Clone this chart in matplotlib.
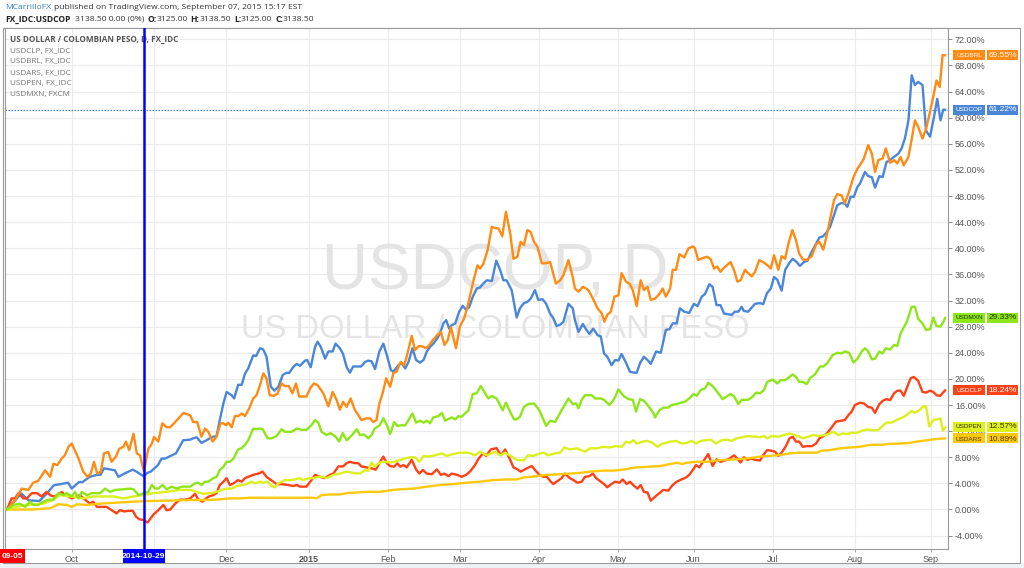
import matplotlib
matplotlib.use("Agg")
import matplotlib.pyplot as plt
import matplotlib.patches as mpatches
import numpy as np
import pandas as pd

# ---------------- DATA ----------------
# x = trading-day index counted from 2014-09-05, y = % change since 2014-09-05
START_DATE = "2014-09-05"
END_DATE = "2015-09-07"
MARK_DATE = "2014-10-29"

USDCOP = [(0, 0), (4, 2.45), (6, 1.4), (9, 1.3), (11, 2.4), (13, 3.7), (17, 4.1), (18, 3.2), (20, 4.2), (21, 4.2),
          (23, 5.0), (25, 5.3), (26, 5.3), (27, 6.3), (30, 6.0), (31, 5.0), (33, 5.6), (35, 6.1), (36, 5.8), (38, 5.1),
          (39, 5.6), (40, 5.8), (42, 6.8), (43, 7.8), (44, 7.8), (47, 8.6), (49, 10.6), (51, 10.7),
          (51.8, 10.9), (52.8, 11.05), (54.1, 10.2), (55.5, 10.6), (56.9, 11.05), (58.3, 11.25), (59.2, 13.7),
          (60.2, 16.25), (61.1, 18.0), (62.5, 17.5), (63.2, 17.0), (64.3, 19.1), (65.3, 19.1), (66.2, 20.8),
          (67.1, 21.6), (68.5, 23.6), (69.3, 23.5), (70.4, 24.7), (71.3, 24.5), (72.2, 23.4), (73.4, 18.8),
          (74.4, 18.2), (75.5, 18.8), (76.7, 20.6), (77.8, 20.95), (78.5, 20.9), (79.6, 21.8), (80.6, 22.3),
          (81.5, 22.0), (82.9, 22.8), (83.5, 22.9), (84.5, 21.8), (85.7, 24.9), (86.4, 25.7), (87.3, 24.9),
          (88.5, 23.1), (89.4, 24.2), (90.6, 24.2), (91.4, 25.4), (92.6, 24.7), (93.5, 23.8), (94.5, 21.8),
          (95.4, 20.95), (96.3, 21.9), (97.3, 21.9), (98.5, 21.9), (99.6, 22.6), (100.5, 22.8), (101.4, 22.7),
          (102.4, 21.5), (103.6, 24.2),
          (104.7, 25.4), (105.7, 23.6), (106.8, 21.35), (107.5, 21.1), (108.9, 22.1), (109.8, 22.4), (110.8, 21.6),
          (111.7, 22.6), (112.8, 24.7), (113.8, 22.9), (114.9, 22.5), (115.9, 22.9), (116.8, 24.2), (117.7, 24.9),
          (118.6, 25.4), (119.7, 26.2), (120.5, 27.0), (121.4, 28.5), (122.2, 29.0), (123, 27.7), (123.7, 28.2),
          (124.7, 28.5), (125.8, 30.3), (126.8, 31.2), (127.7, 30.6), (128.6, 31.0), (129.6, 32.6), (130.7, 33.85),
          (131.6, 34.0), (132.5, 34.6), (133.5, 35.1), (134.9, 35.0), (136.1, 38.1), (137.2, 36.7), (138.1, 35.1),
          (139, 35.1), (140.4, 33.6), (141.8, 29.4), (142.7, 30.8), (143.8, 31.6), (144.8, 31.8), (145.7, 32.3),
          (146.9, 33.6), (147.8, 32.1), (149, 32.2), (150, 31.5), (151.1, 30.0), (152, 29.3), (152.9, 28.1),
          (153.9, 28.3), (154.8, 28.75), (156.2, 31.5),
          (157.4, 30.8), (158, 29.0), (159, 27.2), (160.2, 28.4), (161.1, 27.6), (162, 26.9), (163.1, 27.7),
          (164.3, 26.7), (165.2, 26.5), (166.1, 23.9), (167, 23.4), (168.2, 22.1), (169.2, 22.9), (170.1, 22.8),
          (171, 23.8), (172.2, 22.5), (173.3, 21.1), (174.4, 20.95), (175.2, 20.95), (176.1, 22.4), (177.2, 23.4),
          (178.2, 22.9), (179.1, 22.3), (180.6, 24.2), (181.9, 24.0), (183.3, 27.5), (184.3, 27.6), (185.2, 28.5),
          (186.3, 28.5), (187.2, 30.8), (188.4, 30.3), (189.8, 30.1), (191.1, 31.5), (192.1, 31.15), (193.3, 32.6),
          (194.2, 33.0), (195.4, 34.5), (196.3, 34.1), (197.4, 31.3), (198.5, 31.3), (199.5, 30.0), (200.7, 29.9),
          (201.6, 29.8), (202.5, 30.3), (203.5, 30.3), (204.4, 31.05), (205, 30.4), (206.2, 30.3), (208.1, 31.5),
          (209.5, 31.6),
          (210.4, 31.45), (211.4, 33.1), (212.5, 33.85), (213.4, 35.6), (214.3, 35.2), (215.5, 33.5), (216.5, 36.7),
          (217.7, 37.8), (218.6, 38.4), (219.7, 37.9), (220.6, 37.3), (221.7, 37.9), (222.7, 38.1), (223.9, 39.5),
          (225.1, 40.7), (226, 41.65), (227.1, 41.85), (228.1, 42.5), (229, 43.3), (230.1, 45.1), (231, 46.6),
          (232.2, 46.95), (233.1, 46.85), (233.8, 46.35), (234.7, 47.9), (235.6, 47.9), (236.6, 49.4), (237.3, 49.9),
          (238.7, 51.7), (239.6, 51.05), (240.6, 50.9), (241.5, 49.3), (242.7, 51.05), (243.6, 50.9), (244.7, 53.2),
          (245.8, 53.6), (246.8, 54.0), (248, 54.5), (248.9, 55.3), (249.8, 56.8), (250.8, 59.6), (251.7, 66.5),
          (252.6, 65.0), (253.5, 65.5), (254.7, 65.0), (255.7, 58.0), (256.8, 57.1), (257.9, 60.1), (258.8, 62.9),
          (259.7, 59.6), (260.5, 61.25), (261, 61.22)]

USDBRL = [(0, 0), (2.2, 1.4), (4.1, 3.2), (5.9, 3.0), (7.3, 4.1), (8.7, 4.4), (10.6, 6.0), (12, 5.0), (12.9, 7.0),
          (14, 6.8), (15.2, 7.8), (16.1, 8.3), (17.1, 9.6), (18, 10.1), (19.9, 7.8), (21.2, 5.8), (22.4, 5.0),
          (23.3, 5.5), (24.2, 7.3), (25.1, 5.5), (26.1, 5.8), (27, 8.6), (28.2, 8.8), (29.1, 7.3), (30.3, 8.1),
          (31.2, 9.3), (32.4, 9.6), (33.1, 10.4), (34, 9.1), (35.2, 11.6), (36.1, 8.6), (37, 8.3), (38.1, 5.8),
          (39.3, 9.3), (40.3, 10.1), (40.9, 11.1), (42.1, 10.4), (43.2, 13.2), (44.4, 12.6), (45.4, 12.6),
          (46.8, 13.4), (49.1, 14.8), (51, 14.4),
          (51.8, 13.4), (52.9, 13.4), (54.1, 11.15), (55.1, 12.4), (56, 11.9), (57.2, 10.4), (58.3, 11.15),
          (59.4, 13.2), (60.2, 13.2), (60.9, 12.9), (61.6, 13.3), (62.5, 12.6), (63.4, 14.3), (64.3, 14.3),
          (65.3, 14.7), (66.2, 14.3), (67.4, 15.5), (68.5, 17.0), (69.4, 17.5), (70.4, 19.05), (71.3, 20.85),
          (72.2, 20.1), (73.1, 17.5), (74.1, 17.4), (75.2, 17.7), (76.4, 19.3), (77.3, 18.9), (78.4, 18.9),
          (79.4, 17.8), (80.4, 19.3), (81.3, 17.3), (82.4, 17.3), (83.3, 17.3), (84.5, 18.7), (85.4, 19.3),
          (86.4, 19.05), (88, 17.8), (89.4, 15.8), (90.6, 18.0), (91.7, 16.8), (92.6, 15.3), (93.5, 16.5),
          (94.5, 15.7), (95.6, 17.0), (96.8, 15.2), (97.7, 14.5), (98.6, 13.7), (99.8, 13.95), (101, 13.95),
          (101.9, 13.4), (102.8, 13.7), (103.6, 16.25),
          (104.5, 17.8), (105.5, 20.1), (106.6, 18.8), (107.5, 20.9), (108.4, 21.1), (109.5, 22.6), (110.5, 22.1),
          (111.2, 23.4), (112.6, 26.6), (113.5, 24.4), (114.5, 25.0), (115.4, 25.0), (116.6, 24.7), (117.5, 25.2),
          (118.4, 25.9), (119.7, 26.7), (120.7, 27.2), (121.7, 25.2), (122.6, 25.9), (123.5, 27.9), (124.9, 24.7),
          (126, 28.0), (127.2, 29.3), (128.1, 31.0), (128.8, 32.7), (129.8, 35.1), (130.9, 37.4), (131.6, 36.9),
          (132.5, 37.6), (133.7, 39.7), (134.9, 43.3), (135.8, 43.1), (136.7, 43.05), (137.8, 41.85), (138.8, 45.6),
          (140, 42.3), (140.9, 38.4), (142, 38.7), (142.9, 41.0), (143.8, 40.5), (144.8, 42.8), (145.7, 42.5),
          (146.6, 41.0), (147.6, 40.2), (148.8, 37.7), (149.7, 37.7), (151.1, 37.9), (152.7, 34.6), (153.9, 35.1),
          (154.8, 35.9), (156.2, 38.2),
          (157.4, 35.6), (158, 33.85), (159, 33.35), (160.2, 34.1), (161.1, 33.85), (161.75, 33.6), (163, 32.3),
          (164.3, 30.8), (165.5, 30.0), (166.2, 28.75), (167, 29.8), (168, 30.3), (169, 32.6), (170.1, 32.8),
          (171, 36.2), (172.2, 34.9), (173.3, 34.5), (174.1, 33.6), (175.2, 31.15), (176.3, 35.1), (177.2, 33.6),
          (178.2, 34.1), (179.1, 32.1), (180.3, 32.3), (181.5, 33.0), (182.4, 33.85), (183.3, 32.6), (184.5, 33.85),
          (185.2, 36.7), (186.1, 36.7), (187.1, 39.1), (188.4, 38.6), (189.6, 40.0), (190.8, 40.3), (191.4, 40.0),
          (192.3, 38.2), (193.5, 38.5), (194.8, 38.7), (195.8, 38.3), (196.7, 36.9), (197.6, 37.2), (198.5, 36.4),
          (199.5, 37.05), (201.3, 37.9), (202.3, 36.6), (203.2, 34.9), (204.1, 35.1), (205.3, 36.7), (206.2, 36.2),
          (207.2, 35.7), (208.1, 36.4), (209.3, 38.2),
          (210.6, 37.8), (211.8, 37.3), (212.5, 36.9), (213.4, 38.95), (214.6, 36.7), (215.5, 38.8), (216.5, 38.4),
          (217.4, 40.7), (218.5, 42.8), (219.5, 41.25), (220.4, 39.2), (221.4, 38.3), (222.5, 38.2), (223.9, 38.8),
          (225.1, 40.6), (226, 41.0), (227.1, 39.8), (228.2, 42.3), (230.1, 47.4), (231, 48.3), (232.2, 48.1),
          (233.1, 46.9), (234.1, 48.4), (235.5, 50.9), (236.6, 52.2), (237.5, 52.9), (238.4, 53.75), (239.6, 55.8),
          (240.6, 54.5), (241.5, 51.7), (242.4, 53.5), (243.6, 53.75), (244.5, 55.3), (245.7, 53.1), (246.8, 53.5),
          (247.7, 53.0), (248.6, 54.0), (249.5, 52.7), (250.8, 54.0), (251.7, 56.7), (252.6, 59.6), (253.5, 58.6),
          (254.7, 56.8), (255.7, 58.3), (256.8, 60.9), (257.7, 63.2), (258.6, 65.7), (259.5, 64.7), (260.3, 69.6),
          (261, 69.55)]

USDCLP = [(0, 0), (1.3, 1.7), (2.2, 1.7), (3.2, 2.5), (4.5, 1.7), (5.5, 1.7), (6.9, 2.5), (8.3, 2.5), (9.6, 2.0),
          (11, 2.7), (12, 2.2), (12.9, 2.0), (14.3, 2.2), (15.2, 2.7), (16.1, 2.2), (17.1, 2.0), (18, 1.7), (19.4, 2.0),
          (20.3, 2.2), (21.7, 1.5), (23.1, 0.9), (24, 1.2), (25, 0.4), (26.3, 0.4), (27.7, 0.4), (29.1, -0.1),
          (30.5, -0.6), (31.4, -0.1), (32.6, -0.3), (33.8, -0.2), (35, -0.2), (35.9, -1.1), (36.8, -1.5),
          (37.9, -1.6), (39.1, -2.0), (40.7, -0.8), (42.1, -0.1), (43.5, 0.7), (44.4, -0.1), (45.4, 0.0), (46.8, 0.9),
          (48.1, 1.5), (49.5, 1.5), (51, 1.7),
          (52.3, 2.4), (53.2, 1.55), (54.4, 1.2), (56, 1.96), (57.4, 2.2), (58.3, 2.5), (59.2, 3.75), (60.2, 4.26),
          (61.1, 4.8), (62, 3.75), (63, 4.0), (64.3, 4.5), (65.3, 4.26), (66.2, 4.8), (67.1, 5.0), (68.5, 5.3),
          (69.9, 5.5), (71.1, 5.8), (72.2, 5.0), (74.1, 4.26), (75, 3.9), (76.9, 3.85), (78.2, 3.75), (79.6, 3.6),
          (80.6, 3.75), (81.5, 3.5), (83.3, 3.5), (84.7, 4.5), (85.7, 5.3), (87.1, 5.0), (88.4, 4.8), (89.8, 5.3),
          (90.8, 5.5), (92.2, 6.6), (93.5, 6.6), (94.5, 7.1), (95.4, 7.3), (96.8, 7.1), (97.7, 7.1), (98.6, 6.6),
          (100, 6.45), (101.4, 6.3), (102.6, 6.1), (103.7, 7.2),
          (104.7, 8.1), (105.7, 7.07), (106.6, 6.66), (107.7, 6.56), (108.6, 7.07), (109.4, 6.56), (110.3, 6.8),
          (111.2, 6.45), (112.6, 7.6), (113.8, 6.15), (114.7, 5.5), (115.7, 6.05), (116.8, 5.5), (118.2, 5.4),
          (119.6, 6.15), (120.7, 5.3), (121.7, 5.5), (122.8, 5.1), (123.7, 5.5), (125.3, 5.3), (126.5, 5.0),
          (127.7, 5.3), (128.8, 5.8), (130.2, 6.8), (131.1, 7.7), (132.4, 8.6), (133.3, 8.2), (134.6, 9.2),
          (136.2, 9.4), (137.4, 8.3), (138.6, 9.2), (140, 7.6), (140.9, 6.45), (142, 6.15), (142.9, 5.8), (144.6, 6.3),
          (146, 6.66), (146.9, 6.05), (148.1, 5.3), (149.2, 5.0), (150.2, 5.0), (151.3, 4.26), (152, 3.9),
          (152.9, 4.26), (154.3, 4.8), (155.2, 5.5), (156.6, 4.8),
          (157.6, 4.5), (158.7, 4.1), (159.9, 4.26), (160.8, 5.0), (162, 5.1), (163, 5.5), (163.9, 4.8), (165.2, 4.26),
          (166.1, 3.9), (167, 3.4), (168.2, 3.9), (169.2, 4.26), (170.4, 4.1), (171.3, 4.6), (172.4, 3.9),
          (173.3, 4.26), (174.5, 3.6), (175.4, 3.2), (176.3, 3.75), (177.2, 2.7), (178.2, 2.6), (179.1, 1.35),
          (180.3, 1.96), (181.5, 2.5), (182.6, 3.0), (184, 2.9), (185.2, 3.75), (186.3, 4.26), (187.7, 4.6),
          (188.9, 4.9), (189.8, 5.3), (190.8, 6.05), (191.7, 6.8), (192.6, 6.45), (193.5, 7.2), (195.1, 8.5),
          (196.3, 6.66), (197.4, 7.7), (198.5, 7.3), (199.8, 7.5), (201, 7.8), (202.3, 8.3), (203.2, 7.8),
          (204.1, 7.2), (205, 8.0), (206, 7.6), (207.2, 7.8), (208.1, 7.6), (209.5, 7.5),
          (210.4, 8.34), (211.5, 9.1), (212.7, 9.0), (213.7, 8.85), (214.6, 8.2), (215.5, 8.7), (216.7, 9.7),
          (217.7, 10.9), (218.6, 11.15), (219.5, 10.4), (220.4, 10.4), (221.4, 9.6), (222.5, 9.7), (223.9, 9.7),
          (225.1, 10.1), (226, 10.9), (226.9, 11.15), (228.1, 11.65), (229.2, 12.4), (230.6, 13.45), (232.2, 13.6),
          (233.1, 13.7), (234.1, 14.45), (235, 15.0), (235.9, 16.0), (237.3, 16.35), (238.4, 16.25), (239.6, 15.7),
          (240.6, 15.6), (241.5, 14.8), (242.7, 16.15), (243.8, 16.7), (244.7, 16.9), (245.7, 16.75), (246.8, 17.8),
          (247.7, 18.2), (248.6, 18.2), (249.5, 17.4), (250.5, 18.8), (251.4, 20.1), (252.3, 20.3), (253.5, 19.7),
          (254.7, 18.0), (255.7, 17.9), (256.8, 18.2), (257.7, 18.0), (258.6, 17.5), (259.6, 17.4), (260.4, 17.9),
          (261, 18.24)]

USDMXN = [(0, 0), (1.8, 0.7), (3.6, 0.9), (5, 0.4), (6.4, 1.2), (7.3, 0.7), (8.7, 0.7), (10.1, 1.2), (11.5, 1.5),
          (12.9, 1.5), (14.3, 2.5), (15.7, 2.2), (16.6, 2.5), (18, 2.0), (18.9, 2.7), (19.9, 1.7), (20.8, 2.7),
          (22.2, 2.2), (23.6, 2.5), (25.9, 2.5), (27.3, 3.2), (28.7, 2.7), (30.1, 3.0), (32.4, 3.1), (34.2, 3.2),
          (35.2, 3.1), (36.6, 2.2), (37.9, 2.5), (39.3, 2.7), (40.3, 3.75), (41.2, 3.2), (42.1, 3.2), (43.3, 3.75),
          (44.4, 3.1), (45.8, 3.5), (47.2, 3.2), (48.6, 3.5), (51, 3.5),
          (52.3, 4.0), (53.2, 4.1), (54.1, 3.75), (55.1, 4.26), (56, 4.26), (57.4, 4.8), (58.3, 5.0), (59.2, 6.05),
          (60.2, 6.55), (61.1, 7.3), (62, 7.3), (63, 7.8), (64.3, 9.2), (65.3, 9.4), (66.2, 9.9), (67.1, 10.6),
          (68.5, 12.4), (69.4, 12.3), (70.4, 12.4), (71.1, 12.3), (72.5, 10.9), (73.6, 10.9), (75, 11.25),
          (76.4, 12.3), (77.3, 11.9), (79.2, 11.9), (80.6, 12.4), (82, 12.2), (83.3, 12.2), (84.7, 12.9),
          (85.7, 13.7), (86.6, 13.3), (87.5, 11.9), (88.9, 11.4), (90, 11.7), (91.4, 11.15), (92.4, 10.4),
          (93.4, 11.7), (94.5, 10.6), (96, 11.4), (97.3, 12.3), (98.2, 11.4), (99.3, 11.5), (100.5, 10.9),
          (101.4, 11.4), (102.3, 12.4), (103.7, 12.9),
          (104.7, 13.95), (105.7, 12.9), (106.6, 11.55), (107.7, 13.4), (108.6, 12.8), (109.8, 12.9), (110.8, 12.9),
          (112.8, 14.7), (113.8, 13.3), (114.9, 13.6), (115.9, 13.3), (116.8, 13.6), (117.7, 13.2), (118.6, 14.1),
          (120, 14.3), (121, 14.8), (121.9, 13.6), (123.1, 13.95), (123.7, 14.1), (124.7, 13.8), (125.6, 14.3),
          (126.5, 14.2), (127.4, 14.7), (128.4, 15.2), (129.6, 17.7), (130.7, 17.8), (131.8, 18.9), (133, 17.8),
          (133.9, 17.0), (134.9, 17.4), (136.2, 17.0), (137.9, 15.2), (138.8, 16.35), (140.2, 14.7), (141.1, 13.8),
          (141.8, 13.8), (142.7, 14.2), (143.8, 15.7), (145, 16.15), (146.6, 16.25), (148.1, 15.2), (150, 12.8),
          (151.1, 13.6), (152.5, 13.4), (154.3, 15.2), (156.2, 17.0),
          (157.4, 16.15), (158.3, 16.25), (159, 15.5), (159.9, 16.8), (160.8, 17.5), (162.7, 17.5), (163.6, 17.0),
          (165.2, 17.0), (166.1, 16.8), (167.6, 16.0), (168.9, 16.9), (170.1, 18.4), (171.5, 17.4), (172.9, 16.9),
          (174.1, 16.8), (175, 15.0), (176.1, 16.9), (177.2, 16.65), (178.2, 16.0), (179.8, 14.8), (180.3, 14.1),
          (181.5, 15.2), (182.6, 15.6), (184, 15.6), (184.9, 16.0), (186.3, 16.15), (187.4, 16.35), (188.6, 16.5),
          (189.8, 17.0), (191, 17.7), (191.9, 17.4), (193, 18.3), (194.2, 18.55), (195.1, 19.4), (196.3, 18.9),
          (197.9, 17.8), (199.1, 16.9), (200.2, 17.3), (201.3, 17.7), (202.3, 17.3), (203.5, 16.15), (204.4, 16.8),
          (205.3, 16.8), (206.2, 16.8), (207.5, 17.3), (208.4, 17.9), (209.5, 17.8),
          (210.6, 18.3), (211.5, 19.55), (213, 19.9), (214.3, 19.3), (215.2, 19.8), (216.5, 19.8), (217.7, 20.3),
          (218.6, 20.7), (219.5, 20.3), (220.4, 19.55), (221.4, 19.55), (222.5, 19.2), (223.4, 20.1), (224.8, 20.7),
          (226.2, 21.9), (227.1, 21.9), (228.2, 22.4), (229.7, 23.65), (231, 24.0), (232.2, 23.9), (233.1, 24.2),
          (234.3, 24.0), (235.5, 22.5), (236.6, 23.1), (237.8, 24.2), (238.7, 24.7), (239.6, 24.2), (240.6, 23.0),
          (241.5, 23.1), (242.7, 24.2), (243.6, 23.9), (244.5, 24.7), (245.7, 24.5), (246.8, 25.2), (247.7, 25.05),
          (248.6, 26.96), (250.3, 28.7), (251.7, 31.05), (252.6, 31.05), (253.5, 29.2), (254.7, 28.5), (255.7, 27.5),
          (256.8, 27.6), (257.7, 29.4), (258.6, 28.1), (259.7, 28.0), (260.5, 28.7), (261, 29.33)]

USDPEN = [(0, 0), (2.7, 0.4), (5.5, 0.7), (10.1, 0.9), (12.9, 1.5), (14.7, 2.2), (17.5, 2.0), (21.2, 1.7), (24, 2.0),
          (29.6, 2.0), (32.4, 1.7), (35.2, 2.0), (37.9, 2.2), (40.7, 2.5), (44.4, 2.7), (48.1, 3.0), (51, 3.0),
          (52.8, 2.7), (54.6, 2.4), (56.5, 2.5), (58.3, 2.7), (59.7, 3.0), (61.1, 3.2), (62.5, 3.2), (63.9, 3.6),
          (65.7, 3.75), (67.1, 4.0), (68, 4.26), (69, 4.0), (70.4, 4.26), (71.3, 4.1), (72.4, 4.26), (73.6, 3.6),
          (74.5, 3.4), (75.5, 4.0), (77.3, 4.5), (78.7, 4.5), (80.1, 4.6), (81.5, 4.8), (82.4, 4.5), (83.8, 4.8),
          (85.2, 4.8), (86.6, 5.0), (88, 5.0), (88.9, 4.8), (90.8, 5.3), (92.6, 5.5), (94.5, 5.8), (96.3, 5.6),
          (98.2, 5.5), (99.6, 6.05), (100.5, 5.9), (101.4, 7.2), (102.3, 6.55), (103.7, 7.2),
          (105.2, 7.3), (107, 7.2), (109.4, 7.6), (112.1, 8.0), (113.5, 8.0), (114.7, 7.3), (115.9, 8.2),
          (117.2, 8.1), (119.1, 8.3), (121, 8.6), (122.3, 8.2), (124.2, 8.5), (126, 8.7), (128.4, 8.7), (130.2, 8.3),
          (131.6, 8.85), (133.5, 8.3), (135.8, 8.85), (137.2, 8.3), (138.6, 8.7), (140.4, 8.1), (141.8, 7.6),
          (143.7, 7.5), (145, 8.3), (146.4, 8.2), (147.8, 8.5), (149.2, 8.7), (150.6, 8.3), (152.5, 8.6),
          (153.9, 8.7), (155, 9.5), (156.6, 9.2),
          (158.5, 9.36), (160.8, 8.85), (162.2, 9.36), (164, 9.36), (165.9, 9.6), (167.6, 9.5), (169.4, 9.7),
          (171, 9.6), (172.2, 10.4), (173.2, 10.2), (174.3, 10.6), (175.2, 10.1), (176.9, 10.4), (178.2, 10.5),
          (179.6, 10.2), (181, 9.6), (182.4, 10.1), (183.3, 10.2), (184.5, 10.4), (186.1, 10.5), (187.7, 10.1),
          (189.1, 10.2), (190.5, 10.5), (191.7, 10.1), (193, 10.5), (194.2, 10.6), (195.8, 10.7), (197.3, 10.1),
          (198.8, 10.6), (200.4, 10.7), (201.6, 10.5), (203, 10.9), (204.4, 11.05), (206.2, 11.25), (208.1, 11.15),
          (209.5, 11.05),
          (210.6, 11.25), (211.5, 10.9), (212.7, 11.25), (214.6, 11.15), (216.2, 11.4), (217.7, 11.65),
          (219.2, 11.4), (220.4, 11.15), (221.5, 10.9), (222.9, 11.15), (224.3, 11.4), (225.7, 11.25), (227.6, 11.4),
          (229, 11.65), (229.9, 11.9), (231.3, 11.4), (232.5, 11.65), (233.8, 11.55), (235, 11.75), (236.4, 11.75),
          (237.8, 12.05), (239.2, 12.25), (240.6, 12.15), (242.4, 12.15), (243.6, 12.8), (244.7, 13.3),
          (246.1, 13.3), (247.5, 13.7), (249.2, 14.1), (250.3, 14.45), (251.7, 15.1), (252.6, 14.8), (253.8, 15.2),
          (254.7, 15.7), (255.7, 15.8), (256.6, 12.7), (257.7, 13.7), (258.6, 13.8), (259.7, 13.95), (260.4, 12.05),
          (261, 12.57)]

USDARS = [(0, 0), (7.3, 0.0), (12, 0.2), (14.3, 0.8), (16.6, 0.7), (18, 0.4), (19.4, 0.8), (22.2, 0.7), (25.9, 0.9),
          (30.5, 1.05), (35.2, 1.2), (39.8, 1.3), (44.4, 1.35), (51, 1.45),
          (56.5, 1.45), (59.2, 1.55), (62, 1.7), (64.8, 1.7), (67.6, 1.8), (70.4, 1.8), (75, 1.8), (78.7, 1.8),
          (83.3, 1.8), (85.2, 1.8), (86.1, 1.7), (87.5, 2.2), (89.8, 2.3), (92.6, 2.3), (94.5, 2.5), (97.3, 2.6),
          (100, 2.7), (103.7, 2.7),
          (107.5, 3.0), (109.4, 3.1), (113.1, 3.2), (116.8, 3.5), (120.5, 3.75), (124.2, 3.9), (127.9, 4.1),
          (131.6, 4.26), (135.3, 4.5), (139, 4.6), (141.8, 4.6), (143.7, 4.9), (147.4, 5.1), (150.2, 5.3),
          (153.9, 5.4), (156.6, 5.5),
          (159.4, 5.6), (162.2, 5.8), (165.9, 5.95), (168.7, 5.95), (170.6, 6.05), (172, 6.15), (173.3, 6.3),
          (175.2, 6.45), (178.9, 6.56), (181.7, 6.66), (184.5, 6.96), (186.3, 7.17), (187.7, 6.96), (189.1, 7.17),
          (191.9, 7.3), (194.7, 7.3), (197.4, 7.5), (200.2, 7.6), (203, 7.7), (205.8, 7.8), (209.5, 8.1),
          (211.8, 8.2), (215.1, 8.34), (217.8, 8.6), (220.6, 8.7), (225.3, 8.7), (226.6, 9.0), (229, 9.1),
          (231.7, 9.36), (234.5, 9.5), (237.3, 9.6), (240.1, 9.9), (242.9, 9.9), (245.7, 10.05), (248.4, 10.1),
          (251.2, 10.2), (253.1, 10.4), (255.9, 10.6), (258.6, 10.8), (261, 10.89)]

SERIES = ["USDCOP", "USDCLP", "USDBRL", "USDARS", "USDPEN", "USDMXN"]
SERIES_DATA = {"USDCOP": USDCOP, "USDCLP": USDCLP, "USDBRL": USDBRL,
               "USDARS": USDARS, "USDPEN": USDPEN, "USDMXN": USDMXN}
LAST_VALUES = {"USDBRL": 69.55, "USDCOP": 61.22, "USDMXN": 29.33,
               "USDCLP": 18.24, "USDPEN": 12.57, "USDARS": 10.89}
LEGEND_LINES = ["US DOLLAR / COLOMBIAN PESO, D, FX_IDC", "USDCLP, FX_IDC", "USDBRL, FX_IDC",
                "USDARS, FX_IDC", "USDPEN, FX_IDC", "USDMXN, FXCM"]
MONTH_LABELS = ["Oct", "", "Dec", "2015", "Feb", "Mar", "Apr", "May", "Jun", "Jul", "Aug", "Sep"]
Y_TICKS = list(range(-4, 73, 4))

# ---------------- STYLE ----------------
COLORS = {"USDCOP": "#4a86d8", "USDBRL": "#ff8a14", "USDMXN": "#8ee619",
          "USDCLP": "#ff4117", "USDPEN": "#dbf01c", "USDARS": "#ffc80c"}
TEXT_ON = {"USDCOP": "white", "USDBRL": "white", "USDCLP": "white",
           "USDMXN": "#1a3300", "USDPEN": "#333300", "USDARS": "#4a3a00"}
LABEL_NUDGE = {"USDPEN": -0.8, "USDARS": 0.8}
W, H = 1024, 568
UI_FONT = ["Open Sans", "DejaVu Sans"]
AX_FONT = ["Liberation Sans", "DejaVu Sans"]

fig = plt.figure(figsize=(W / 100, H / 100), dpi=100)
fig.patch.set_facecolor("white")


def fx(x):
    return x / W


def fy(y):
    return 1 - y / H


# frame / background strips (below the axes)
fig.patches.append(mpatches.Rectangle((0, 0), 1, fy(563), transform=fig.transFigure,
                                      facecolor="#eef1f4", edgecolor="none", zorder=-3))
fig.patches.append(mpatches.Rectangle((fx(3), fy(563)), fx(1020) - fx(3), fy(28) - fy(563),
                                      transform=fig.transFigure, facecolor="white",
                                      edgecolor="#9a9a9a", lw=0.8, zorder=-2))

ax = fig.add_axes([fx(5), fy(549), fx(948) - fx(5), fy(28) - fy(549)])
ax.set_facecolor("white")

dates = pd.bdate_range(START_DATE, END_DATE)
ax.set_xlim(-0.56, 261.8)
ax.set_ylim(-6.05, 73.74)

# month positions from the business-day calendar
month_pos = []
for m in pd.date_range("2014-10-01", "2015-09-01", freq="MS"):
    month_pos.append(int(np.searchsorted(dates.values, np.datetime64(m))))
ax.set_xticks(month_pos)
ax.set_xticklabels(MONTH_LABELS)
for lbl in ax.get_xticklabels():
    lbl.set_fontfamily(AX_FONT)
    if lbl.get_text() == "2015":
        lbl.set_fontweight("bold")
ax.tick_params(axis="x", direction="out", length=2, width=0.6, color="#999999",
               labelsize=6.5, labelcolor="#555555", pad=2)

ax.yaxis.tick_right()
ax.set_yticks(Y_TICKS)
ax.set_yticklabels([f"{v:.2f}%" for v in Y_TICKS])
for lbl in ax.get_yticklabels():
    lbl.set_fontfamily(AX_FONT)
ax.tick_params(axis="y", direction="out", length=3, width=0.6, color="#777777",
               labelsize=6.5, labelcolor="#555555", pad=2)

ax.grid(True, color="#ebebeb", lw=0.8, zorder=0)
ax.set_axisbelow(True)
for side in ["left", "top", "bottom", "right"]:
    ax.spines[side].set_color("#9a9a9a")
    ax.spines[side].set_linewidth(0.8)

# watermark (inside the axes, behind the lines)
ax.text(fx(495), fy(290), "USDCOP, D", fontsize=46, color="#e4e4e4", ha="center",
        va="baseline", family=AX_FONT, zorder=1, transform=fig.transFigure)
ax.text(fx(495), fy(338), "US DOLLAR / COLOMBIAN PESO", fontsize=23.6, color="#e4e4e4",
        ha="center", va="baseline", family=AX_FONT, zorder=1, transform=fig.transFigure)

# legend text inside chart
for i, line in enumerate(LEGEND_LINES):
    ax.text(fx(10), fy(40 + i * 11), line, fontsize=5.9,
            fontweight="bold" if i == 0 else "normal",
            color="#555555" if i == 0 else "#737373", ha="left", va="center",
            family=UI_FONT, zorder=2, transform=fig.transFigure)

# lines
for k, name in enumerate(SERIES):
    pts = np.array(SERIES_DATA[name], dtype=float)
    ax.plot(pts[:, 0], pts[:, 1], color=COLORS[name], lw=1.7, solid_joinstyle="round",
            zorder=3 + k)

# last value dotted line for main series
ax.axhline(LAST_VALUES["USDCOP"], color=COLORS["USDCOP"], lw=0.9, ls=(0, (1.2, 1.2)), zorder=2)

# vertical marker
mark_idx = int(np.searchsorted(dates.values, np.datetime64(MARK_DATE)))
ax.axvline(mark_idx, color="#0000ff", lw=1.8, zorder=10)

fig.canvas.draw()

# right-side labels
for name, val in LAST_VALUES.items():
    ypix = H - ax.transData.transform((0, val))[1]
    c = COLORS[name]
    fig.patches.append(mpatches.Rectangle((fx(953), fy(ypix + 5)), fx(985) - fx(953), 10 / H,
                                          transform=fig.transFigure, facecolor=c,
                                          edgecolor="none", zorder=6))
    fig.patches.append(mpatches.Rectangle((fx(987), fy(ypix + 5)), fx(1018) - fx(987), 10 / H,
                                          transform=fig.transFigure, facecolor=c,
                                          edgecolor="none", zorder=6))
    ty = ypix + LABEL_NUDGE.get(name, 0)
    fig.text(fx(969), fy(ty), name, fontsize=4.6, color=TEXT_ON[name], ha="center",
             va="center", family=AX_FONT, zorder=7)
    fig.text(fx(1002.5), fy(ty), f"{val:.2f}%", fontsize=6.0, color=TEXT_ON[name],
             ha="center", va="center", family=AX_FONT, zorder=7)

# date markers on time axis
xm = ax.transData.transform((mark_idx, 0))[0]
fig.patches.append(mpatches.Rectangle((fx(xm - 21), fy(563)), 42 / W, 14 / H,
                                      transform=fig.transFigure, facecolor="#0000ff",
                                      edgecolor="none", zorder=6))
fig.text(fx(xm), fy(556), MARK_DATE, fontsize=6.0, color="white", fontweight="bold",
         ha="center", va="center", family=AX_FONT, zorder=7)
fig.patches.append(mpatches.Rectangle((fx(0), fy(563)), 25 / W, 14 / H,
                                      transform=fig.transFigure, facecolor="#ff0000",
                                      edgecolor="none", zorder=6))
fig.text(fx(12.5), fy(556), START_DATE[5:], fontsize=6.0, color="white", fontweight="bold",
         ha="center", va="center", family=AX_FONT, zorder=7)

# header text runs
renderer = fig.canvas.get_renderer()


def runs(x, y, parts):
    for s, kw in parts:
        if s == " ":
            x += kw
            continue
        t = fig.text(fx(x), fy(y), s, ha="left", va="center", family=UI_FONT, **kw)
        x += t.get_window_extent(renderer).width
    return x


SP = 2.8
HF = 6.1
runs(5, 7.5, [("MCarrilloFX", dict(fontsize=HF, color="#2f7fc1")), (" ", SP),
              ("published on TradingView.com, September 07, 2015 15:17 EST", dict(fontsize=HF, color="#333333"))])
B = dict(fontsize=HF, color="#222222", fontweight="bold")
N = dict(fontsize=HF, color="#333333")
runs(5, 19.5, [("FX_IDC:USDCOP", B), (" ", SP + 2), ("3138.50 0.00 (0%)", N), (" ", SP),
               ("O:", B), ("3125.00", N), (" ", SP), ("H:", B), ("3138.50", N), (" ", SP),
               ("L:", B), ("3125.00", N), (" ", SP), ("C:", B), ("3138.50", N)])

fig.savefig("out.png", dpi=100, facecolor=fig.get_facecolor())
